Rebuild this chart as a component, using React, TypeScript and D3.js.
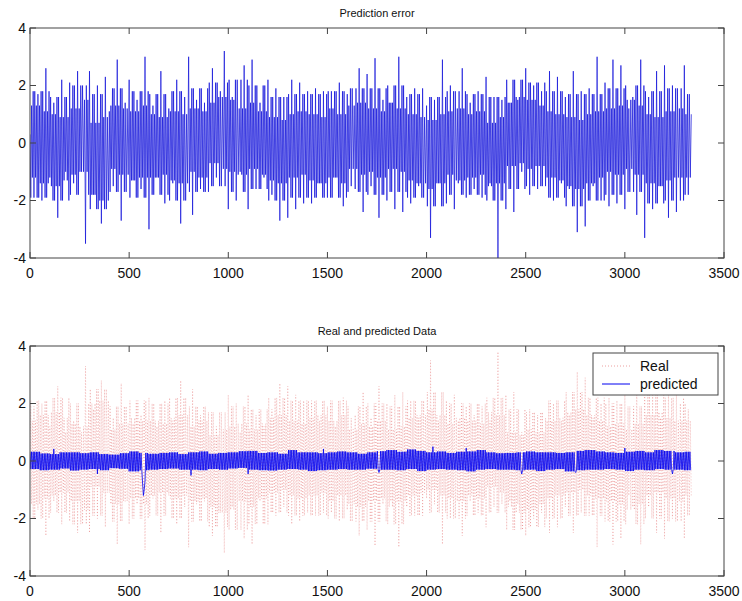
import React from "react";
import * as d3 from "d3";

const xTicks = [0, 500, 1000, 1500, 2000, 2500, 3000, 3500];
const yTicks = [-4, -2, 0, 2, 4];

// Prediction error: largest excursion in each 20-sample window (window i starts at sample i*20)
const errorPeaks = [
  0.3, -1.9, 1.7, -2.0, 2.6, -1.2, 1.4, -2.6, 2.2, -1.0,
  2.1, -1.4, 2.5, -1.0, -3.5, 2.5, -1.8, 2.0, -2.8, 2.3,
  1.1, -1.5, 2.9, -2.7, 1.4, 2.2, -1.3, 1.5, -1.6, 3.0,
  -3.0, 1.3, -1.2, 2.5, -2.1, 1.2, -1.4, 2.2, -2.8, 1.6,
  3.0, -2.5, 1.5, -1.6, 1.4, -1.7, 2.6, -1.2, 1.8, 3.2,
  -2.3, 1.6, -2.0, -1.0, 2.7, -2.3, 2.9, -1.6, 1.4, -1.2,
  2.2, -1.8, 1.9, -2.7, 1.6, -2.6, 2.2, -2.3, 2.1, -2.1,
  1.8, -2.1, 1.9, -1.4, 1.8, -1.9, 1.8, -1.2, 2.1, -2.2,
  1.7, -1.5, -1.6, 2.6, -2.4, 2.4, -1.5, 2.95, -2.6, 1.5,
  -2.0, 1.4, -2.3, 3.0, -2.4, 1.6, -2.1, 1.9, -1.5, 1.9,
  1.3, -3.3, 1.5, -1.4, 2.9, -2.1, 2.0, -2.3, -1.4, 2.6,
  -1.9, 1.4, -1.6, 1.8, -1.9, 2.3, -1.4, 1.6, -4.0, 1.5,
  -2.3, 1.4, -2.4, 1.5, -1.0, 2.6, -1.8, 2.0, -1.6, 1.8,
  -1.5, 2.5, -2.0, 2.3, -1.4, 1.6, -1.6, 2.5, -3.1, 1.8,
  -2.9, 1.9, -1.5, 3.0, -2.0, 2.1, -2.2, 2.9, -2.1, 2.7,
  -2.3, 1.2, 1.6, -2.5, 2.9, -3.3, 1.6, -2.3, 2.5, -1.5,
  2.7, -2.6, 2.0, -2.4, -2.0, 2.7, -1.8,
];
// Prediction error: dense dark core, per 50-sample block
const errorCoreHi = [
  1.3, 1.1, 1.0, 0.9, 1.2, 1.5, 0.7, 0.9, 1.3, 1.2, 1.1, 1.3, 1.0, 0.9, 1.1, 1.0, 1.2, 1.1, 1.4, 1.6,
  1.5, 1.2, 1.4, 1.1, 0.9, 0.8, 1.0, 1.1, 1.0, 0.9, 1.2, 1.0, 1.3, 1.4, 1.2, 1.1, 1.4, 1.2, 1.0, 0.9,
  0.8, 1.0, 1.1, 1.2, 1.0, 1.1, 0.7, 0.9, 1.4, 1.6, 1.5, 1.3, 1.1, 1.0, 0.9, 0.8, 1.0, 1.1, 1.2, 1.3,
  1.5, 1.3, 1.0, 0.9, 1.1, 1.2, 1.0,
];
const errorCoreLo = [
  -1.2, -1.4, -1.5, -1.3, -1.1, -1.0, -1.8, -2.0, -0.9, -1.1, -1.3, -1.2, -1.2, -1.1, -1.3, -1.4, -1.0, -1.2, -0.7, -0.9,
  -1.0, -1.1, -0.9, -1.1, -1.3, -1.4, -1.2, -1.1, -1.3, -1.4, -1.2, -1.4, -0.9, -1.1, -1.0, -1.2, -0.9, -1.0, -1.3, -1.4,
  -1.6, -1.4, -1.1, -1.3, -1.2, -1.1, -1.5, -1.4, -0.8, -0.7, -0.9, -0.8, -1.2, -1.3, -1.5, -1.6, -1.4, -1.2, -1.0, -1.1,
  -0.9, -1.1, -1.4, -1.5, -1.3, -1.2, -1.2,
];
// Prediction error: light outer band, per 100-sample block
const errorOuterHi = [
  1.8, 1.6, 2.0, 1.7, 1.9, 1.8, 1.7, 1.8, 1.9, 2.1, 2.2, 2.0, 1.6, 1.7, 1.7, 1.8, 1.9,
  1.9, 2.0, 1.7, 1.6, 1.8, 1.7, 1.6, 2.2, 2.1, 1.8, 1.7, 1.7, 1.9, 2.0, 1.8, 1.9, 1.7,
];
const errorOuterLo = [
  -1.9, -2.0, -1.8, -2.3, -1.7, -1.9, -1.8, -2.0, -1.7, -1.5, -1.7, -1.6, -2.0, -1.9, -1.9, -1.9, -1.7,
  -1.8, -1.7, -1.9, -2.2, -1.8, -1.8, -2.0, -1.6, -1.5, -1.9, -2.2, -2.0, -1.8, -1.7, -2.1, -2.0, -1.8,
];

// Real data: largest excursion in each 20-sample window
const realPeaks = [
  -0.3, 1.9, -1.7, 2.0, -2.6, 1.2, -1.4, 2.6, -2.2, 1.0,
  -2.1, 1.4, -2.5, 1.0, 3.3, -2.5, 1.8, -2.0, 2.8, -2.3,
  -1.1, 1.5, -2.9, 2.7, -1.4, -2.2, 1.3, -1.5, 1.6, -3.1,
  2.2, -1.3, 1.2, -2.5, 2.1, -1.2, 1.4, -2.2, 2.8, -1.6,
  -3.0, 2.5, -1.5, 1.6, -1.4, 1.7, -2.6, 1.2, -1.8, -3.2,
  2.3, -1.6, 2.0, 1.0, -2.7, 2.3, -2.9, 1.6, -1.4, 1.2,
  -2.2, 1.8, -1.9, 2.7, -1.6, 2.6, -2.2, 2.3, -2.1, 2.1,
  -1.8, 2.1, -1.9, 1.4, -1.8, 1.9, -1.8, 1.2, -2.1, 2.2,
  -1.7, 1.5, 1.6, -2.6, 2.4, -2.4, 1.5, -2.95, 2.6, -1.5,
  2.0, -1.4, 2.3, -3.0, 2.4, -1.6, 2.1, -1.9, 1.5, -1.9,
  -1.3, 3.5, -1.5, 1.4, -2.9, 2.1, -2.0, 2.3, 1.4, -2.6,
  1.9, -1.4, 1.6, -1.8, 1.9, -2.3, 1.4, -1.6, 3.8, -1.5,
  2.3, -1.4, 2.4, -1.5, 1.0, -2.6, 1.8, -2.0, 1.6, -1.8,
  1.5, -2.5, 2.0, -2.3, 1.4, -1.6, 1.6, -2.5, 3.1, -1.8,
  2.9, -1.9, 1.5, -3.0, 2.0, -2.1, 2.2, -2.9, 2.1, -2.7,
  2.3, -1.2, -1.6, 2.5, -2.9, 3.3, -1.6, 2.3, -2.5, 1.5,
  -2.7, 2.6, -2.0, 2.4, 2.0, -2.7, 1.8,
];
// Real data: core per 50-sample block
const realCoreHi = [
  1.4, 1.6, 1.7, 1.5, 1.3, 1.2, 2.0, 2.1, 1.1, 1.3, 1.5, 1.4, 1.4, 1.3, 1.5, 1.6, 1.2, 1.4, 0.9, 1.1,
  1.2, 1.3, 1.1, 1.3, 1.5, 1.6, 1.4, 1.3, 1.5, 1.6, 1.4, 1.6, 1.1, 1.3, 1.2, 1.4, 1.1, 1.2, 1.5, 1.6,
  1.8, 1.6, 1.3, 1.5, 1.4, 1.3, 1.7, 1.6, 1.0, 0.9, 1.1, 1.0, 1.4, 1.5, 1.7, 1.8, 1.6, 1.4, 1.2, 1.3,
  1.1, 1.3, 1.6, 1.7, 1.5, 1.4, 1.4,
];
const realCoreLo = [
  -1.5, -1.3, -1.2, -1.1, -1.4, -1.7, -0.9, -1.1, -1.5, -1.4, -1.3, -1.5, -1.2, -1.1, -1.3, -1.2, -1.4, -1.3, -1.6, -1.8,
  -1.7, -1.4, -1.6, -1.3, -1.1, -1.0, -1.2, -1.3, -1.2, -1.1, -1.4, -1.2, -1.5, -1.6, -1.4, -1.3, -1.6, -1.4, -1.2, -1.1,
  -1.0, -1.2, -1.3, -1.4, -1.2, -1.3, -0.9, -1.1, -1.6, -1.8, -1.7, -1.5, -1.3, -1.2, -1.1, -1.0, -1.2, -1.3, -1.4, -1.5,
  -1.7, -1.5, -1.2, -1.1, -1.3, -1.4, -1.2,
];
// Real data: outer band per 100-sample block
const realOuterHi = [
  2.1, 2.2, 2.0, 2.5, 1.9, 2.1, 2.0, 2.2, 1.9, 1.7, 1.9, 1.8, 2.2, 2.1, 2.1, 2.1, 1.9,
  2.0, 1.9, 2.1, 2.4, 2.0, 2.0, 2.2, 1.8, 1.7, 2.1, 2.4, 2.2, 2.0, 1.9, 2.3, 2.2, 2.0,
];
const realOuterLo = [
  -2.0, -1.8, -2.2, -1.9, -2.1, -2.0, -1.9, -2.0, -2.1, -2.3, -2.4, -2.2, -1.8, -1.9, -1.9, -2.0, -2.1,
  -2.1, -2.2, -1.9, -1.8, -2.0, -1.9, -1.8, -2.4, -2.3, -2.0, -1.9, -1.9, -2.1, -2.2, -2.0, -2.1, -1.9,
];

// Predicted data: band per 50-sample block, plus visible dips/bumps
const predHi = [
  0.32, 0.26, 0.24, 0.3, 0.3, 0.27, 0.3, 0.24, 0.22, 0.27, 0.33, 0.28, 0.25, 0.28, 0.3, 0.24, 0.3, 0.33, 0.25, 0.28,
  0.3, 0.34, 0.35, 0.28, 0.3, 0.25, 0.38, 0.3, 0.3, 0.27, 0.3, 0.33, 0.3, 0.25, 0.3, 0.34, 0.38, 0.32, 0.4, 0.35,
  0.3, 0.33, 0.28, 0.32, 0.33, 0.38, 0.3, 0.27, 0.28, 0.3, 0.33, 0.3, 0.3, 0.28, 0.3, 0.35, 0.38, 0.33, 0.3, 0.28,
  0.32, 0.35, 0.3, 0.38, 0.35, 0.3, 0.32,
];
const predLo = [
  -0.28, -0.32, -0.3, -0.26, -0.33, -0.3, -0.28, -0.32, -0.25, -0.27, -0.36, -0.32, -0.3, -0.28, -0.26, -0.3, -0.3, -0.32, -0.28, -0.3,
  -0.26, -0.24, -0.3, -0.32, -0.33, -0.3, -0.28, -0.3, -0.35, -0.32, -0.3, -0.28, -0.3, -0.3, -0.27, -0.3, -0.3, -0.32, -0.28, -0.35,
  -0.3, -0.28, -0.3, -0.32, -0.36, -0.3, -0.28, -0.3, -0.3, -0.32, -0.3, -0.35, -0.3, -0.28, -0.36, -0.32, -0.3, -0.3, -0.28, -0.3,
  -0.35, -0.3, -0.32, -0.28, -0.3, -0.3, -0.32,
];
const predSpikeSamples = [120, 340, 568, 572, 576, 580, 812, 1100, 1480, 1760, 2032, 2200, 2480, 2752, 3000, 3240];
const predSpikeValues = [0.42, -0.45, -0.8, -1.2, -1.0, -0.7, -0.5, -0.45, 0.42, -0.4, 0.5, 0.45, -0.45, -0.4, 0.45, -0.45];

type Pt = [number, number];

// Each 20-sample window: its largest excursion, then the band values read for that stretch
function buildDense(
  peaks: number[],
  coreHi: number[],
  coreLo: number[],
  outerHi: number[],
  outerLo: number[]
): Pt[] {
  const c = (s: number, hi: boolean) => {
    const b = Math.min(coreHi.length - 1, Math.floor(s / 50));
    return hi ? coreHi[b] : coreLo[b];
  };
  const o = (s: number, hi: boolean) => {
    const b = Math.min(outerHi.length - 1, Math.floor(s / 100));
    return hi ? outerHi[b] : outerLo[b];
  };
  const pts: Pt[] = [];
  peaks.forEach((v, i) => {
    const s = i * 20;
    const up = v >= 0;
    pts.push([s, v]);
    const next = i + 1 < peaks.length ? peaks[i + 1] : -v;
    if (i + 1 < peaks.length && next >= 0 !== up) {
      pts.push([s + 4, o(s + 4, !up)]);
      pts.push([s + 8, c(s + 8, up)]);
      pts.push([s + 12, c(s + 12, !up)]);
      pts.push([s + 16, o(s + 16, up)]);
    } else {
      pts.push([s + 5, o(s + 5, !up)]);
      pts.push([s + 10, c(s + 10, up)]);
      pts.push([s + 15, c(s + 15, !up)]);
    }
  });
  return pts;
}

function buildPred(n: number): Pt[] {
  const pts: Pt[] = [];
  for (let s = 0; s <= n; s += 4) {
    const b = Math.min(predHi.length - 1, Math.floor(s / 50));
    let v = (s / 4) % 2 === 0 ? predHi[b] : predLo[b];
    const j = predSpikeSamples.indexOf(s);
    if (j >= 0) v = predSpikeValues[j];
    pts.push([s, v]);
  }
  return pts;
}

const L = 30;
const R = 724;
const FONT = "'Liberation Sans', Arial, Helvetica, sans-serif";

function Axes({ top, bottom, title, id, children }: any) {
  const x = d3.scaleLinear().domain([0, 3500]).range([L, R]);
  const y = d3.scaleLinear().domain([-4, 4]).range([bottom, top]);
  const tl = 6;
  return (
    <g>
      <defs>
        <clipPath id={id}>
          <rect x={L} y={top} width={R - L} height={bottom - top} />
        </clipPath>
      </defs>
      <g clipPath={`url(#${id})`}>{children(x, y)}</g>
      <rect x={L} y={top} width={R - L} height={bottom - top} fill="none" stroke="#444" strokeWidth={1} />
      {xTicks.map((t) => (
        <g key={"x" + t}>
          <line x1={x(t)} x2={x(t)} y1={bottom} y2={bottom - tl} stroke="#444" />
          <line x1={x(t)} x2={x(t)} y1={top} y2={top + tl} stroke="#444" />
          <text x={x(t)} y={bottom + 20} textAnchor="middle" fontSize={14} fontFamily={FONT} fill="#111">
            {t}
          </text>
        </g>
      ))}
      {yTicks.map((t) => (
        <g key={"y" + t}>
          <line x1={L} x2={L + tl} y1={y(t)} y2={y(t)} stroke="#444" />
          <line x1={R} x2={R - tl} y1={y(t)} y2={y(t)} stroke="#444" />
          <text x={26} y={y(t)} dy="0.35em" textAnchor="end" fontSize={14} fontFamily={FONT} fill="#111">
            {t}
          </text>
        </g>
      ))}
      <text x={(L + R) / 2} y={top - 11} textAnchor="middle" fontSize={11} fontFamily={FONT} fill="#111">
        {title}
      </text>
    </g>
  );
}

export default function App() {
  const errPts = buildDense(errorPeaks, errorCoreHi, errorCoreLo, errorOuterHi, errorOuterLo);
  const realPts = buildDense(realPeaks, realCoreHi, realCoreLo, realOuterHi, realOuterLo);
  const predPts = buildPred((realPeaks.length - 1) * 20 + 12);
  return (
    <svg width={742} height={601} style={{ position: "absolute", left: 0, top: 0, background: "#fff" }}>
      <rect width={742} height={601} fill="#fff" />
      <Axes top={28} bottom={258} title="Prediction error" id="c1">
        {(x: any, y: any) => {
          const line = d3.line<Pt>().x((d) => x(d[0])).y((d) => y(d[1]));
          return (
            <path d={line(errPts) || ""} fill="none" stroke="#0a0ad8" strokeWidth={1} strokeOpacity={0.68} />
          );
        }}
      </Axes>
      <Axes top={346} bottom={576} title="Real and predicted Data" id="c2">
        {(x: any, y: any) => {
          const line = d3.line<Pt>().x((d) => x(d[0])).y((d) => y(d[1]));
          return (
            <g>
              <path d={line(realPts) || ""} fill="none" stroke="#d83030" strokeWidth={0.6} strokeDasharray="1,2" strokeOpacity={0.5} />
              <path d={line(predPts) || ""} fill="none" stroke="#0000f0" strokeWidth={0.8} />
            </g>
          );
        }}
      </Axes>
      <g>
        <rect x={593} y={353} width={125} height={42} fill="#fff" stroke="#444" strokeWidth={1} />
        <line x1={602} x2={630} y1={366} y2={366} stroke="#e06060" strokeDasharray="1,2" strokeOpacity={0.6} />
        <text x={640} y={371} fontSize={14} fontFamily={FONT} fill="#111">Real</text>
        <line x1={602} x2={630} y1={384} y2={384} stroke="#0000f0" strokeWidth={1} />
        <text x={640} y={389} fontSize={14} fontFamily={FONT} fill="#111">predicted</text>
      </g>
    </svg>
  );
}
